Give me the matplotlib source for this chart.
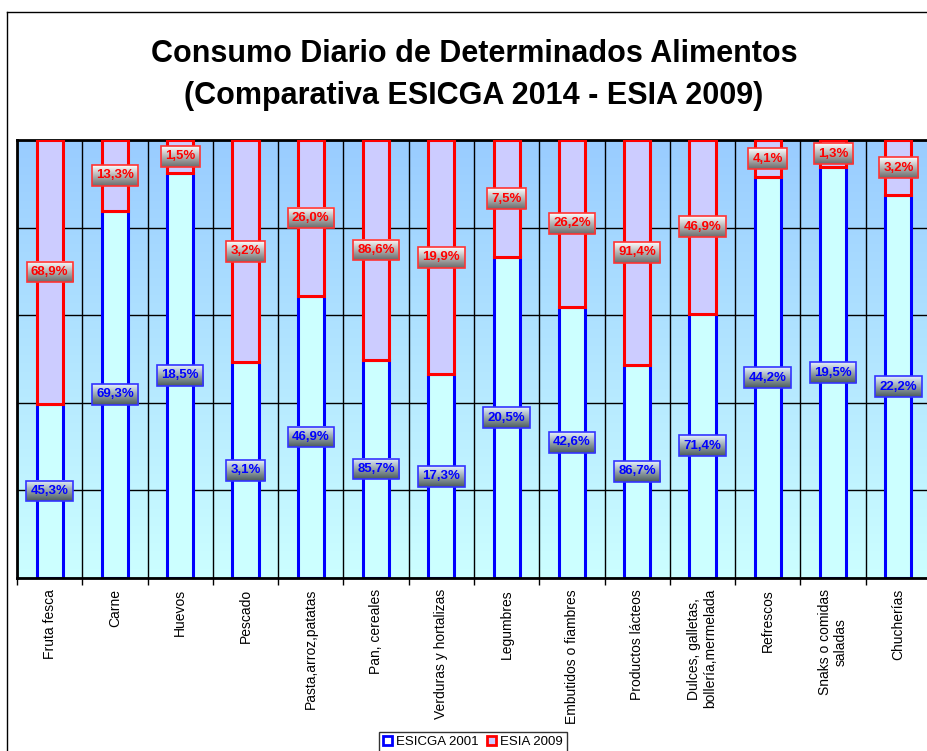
import numpy as np
import matplotlib
matplotlib.use('Agg')
import matplotlib.pyplot as plt
from matplotlib.patches import Patch
from matplotlib.lines import Line2D
from matplotlib.colors import LinearSegmentedColormap

plt.rcParams['font.family'] = ['Liberation Sans', 'DejaVu Sans']

categories = [
    'Fruta fesca', 'Carne', 'Huevos', 'Pescado', 'Pasta,arroz,patatas',
    'Pan, cereales', 'Verduras y hortalizas', 'Legumbres',
    'Embutidos o fiambres', 'Productos lácteos',
    'Dulces, galletas,\nbollería,mermelada', 'Refrescos',
    'Snaks o comidas\nsaladas', 'Chucherías',
]
esicga_2001 = [45.3, 69.3, 18.5, 3.1, 46.9, 85.7, 17.3, 20.5, 42.6, 86.7, 71.4, 44.2, 19.5, 22.2]
esia_2009 = [68.9, 13.3, 1.5, 3.2, 26.0, 86.6, 19.9, 7.5, 26.2, 91.4, 46.9, 4.1, 1.3, 3.2]
series_names = ['ESICGA 2001', 'ESIA 2009']

# 100% stacked: each bar is split by share of the two values
esicga = np.array(esicga_2001)
esia = np.array(esia_2009)
total = esicga + esia
blue_frac = esicga / total
red_frac = esia / total
n = len(categories)
x = np.arange(n)

W, H = 928, 751
fig = plt.figure(figsize=(W / 100, H / 100), dpi=100)
ax = fig.add_axes([17 / W, 1 - 578 / H, (931 - 17) / W, (578 - 140) / H])

# background gradient of the plot area
bg_cmap = LinearSegmentedColormap.from_list('bg', ['#CCFFFF', '#99CCFF'])
grad = np.linspace(0, 1, 256).reshape(-1, 1)
ax.imshow(grad, extent=[-0.5, n - 0.5, 0, 1], origin='lower', aspect='auto',
          cmap=bg_cmap, zorder=0)

ax.bar(x, blue_frac, 0.4, color='#CCFFFF', edgecolor='#0000FF', lw=2.2, zorder=2)
ax.bar(x, red_frac, 0.4, bottom=blue_frac, color='#CCCCFF', edgecolor='#FF0000',
       lw=2.2, zorder=3)

ax.set_xlim(-0.5, n - 0.5)
ax.set_ylim(0, 1)

ax.set_yticks(np.linspace(0, 1, 6))
ax.tick_params(axis='y', length=0, labelleft=False)
ax.yaxis.grid(True, color='black', lw=1)
ax.set_xticks(x)
ax.set_xticklabels(categories, rotation=90, fontsize=10, ha='center', va='top',
                   multialignment='center')
ax.set_xticks(np.arange(n + 1) - 0.5, minor=True)
ax.tick_params(axis='x', which='major', length=0, pad=8)
ax.tick_params(axis='x', which='minor', length=5, width=1, direction='out')
ax.xaxis.grid(True, which='minor', color='black', lw=1)
ax.set_axisbelow(True)
for sp in ax.spines.values():
    sp.set_linewidth(2)
    sp.set_color('black')

# value labels
texts = []
for i in range(n):
    t = ax.text(x[i], blue_frac[i] / 2, f'{esicga[i]:.1f}%'.replace('.', ','),
                ha='center', va='center', color='#0000FF', fontsize=9.5,
                fontweight='bold', zorder=6,
                bbox=dict(boxstyle='square,pad=0.33', fc='none', ec='#3333FF', lw=1.2))
    texts.append((t, ['#E6F2FF', '#4A5A5A']))
    t = ax.text(x[i], blue_frac[i] + red_frac[i] / 2, f'{esia[i]:.1f}%'.replace('.', ','),
                ha='center', va='center', color='#FF0000', fontsize=9.5,
                fontweight='bold', zorder=6,
                bbox=dict(boxstyle='square,pad=0.33', fc='none', ec='#FF3333', lw=1.2))
    texts.append((t, ['#FFFFFF', '#6A6A6A']))

# gradient fill behind each label box
fig.canvas.draw()
renderer = fig.canvas.get_renderer()
inv = ax.transData.inverted()
for t, cols in texts:
    bb = t.get_bbox_patch().get_window_extent(renderer)
    (x0, y0), (x1, y1) = inv.transform([[bb.x0, bb.y0], [bb.x1, bb.y1]])
    cm = LinearSegmentedColormap.from_list('lbl', [cols[1], cols[0]])
    ax.imshow(grad, extent=[x0, x1, y0, y1], origin='lower', aspect='auto',
              cmap=cm, zorder=5)
ax.set_xlim(-0.5, n - 0.5)
ax.set_ylim(0, 1)

fig.text(474 / W, 1 - 75 / H,
         'Consumo Diario de Determinados Alimentos\n(Comparativa ESICGA 2014 - ESIA 2009)',
         ha='center', va='center', fontsize=22, fontweight='bold', linespacing=1.5)

handles = [
    Patch(facecolor='#FFFFFF', edgecolor='#0000FF', lw=2, label=series_names[0]),
    Patch(facecolor='#CCCCFF', edgecolor='#FF0000', lw=2, label=series_names[1]),
]
fig.legend(handles=handles, loc='upper center', bbox_to_anchor=(473 / W, 1 - 732 / H),
           ncol=2, fontsize=9.5, frameon=True, fancybox=False, edgecolor='black',
           handlelength=0.7, handleheight=0.7, handletextpad=0.3, columnspacing=0.6,
           borderpad=0.3, borderaxespad=0)

# outer chart border (cut off on the right and bottom)
fig.add_artist(Line2D([7 / W, 7 / W], [0, 1 - 12 / H], transform=fig.transFigure,
                      color='black', lw=1))
fig.add_artist(Line2D([7 / W, 1], [1 - 12 / H, 1 - 12 / H], transform=fig.transFigure,
                      color='black', lw=1))

fig.savefig('out.png', dpi=100)
